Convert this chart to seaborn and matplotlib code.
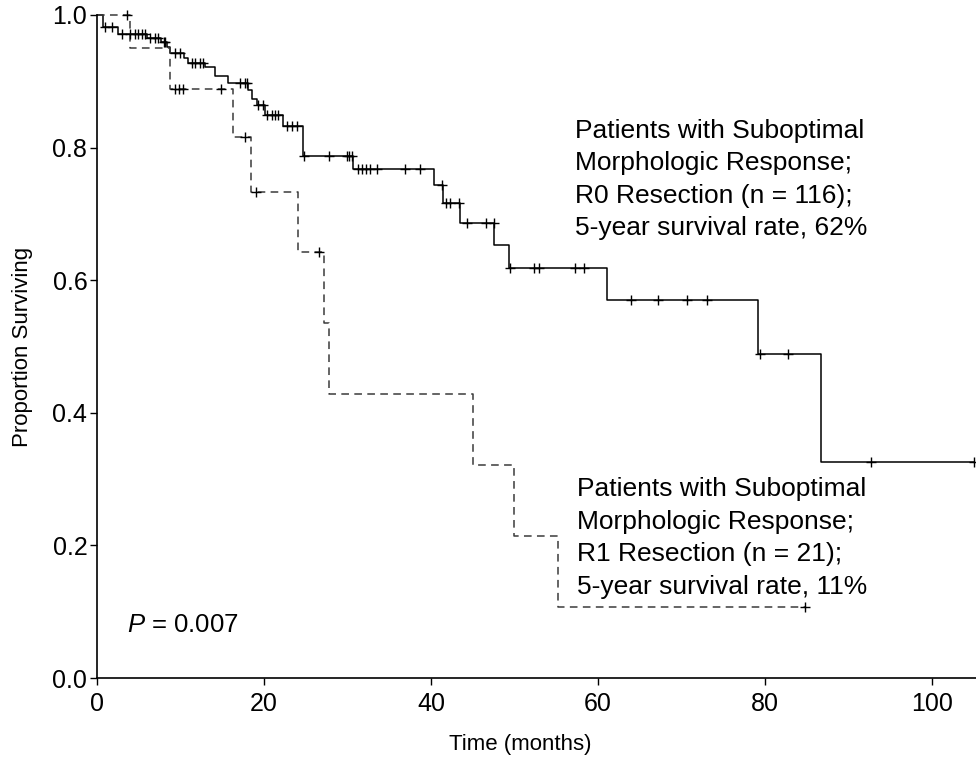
import numpy as np
import pandas as pd
import matplotlib
matplotlib.use("Agg")
import matplotlib.pyplot as plt
import seaborn as sns

# ---- data ----
# R0 resection (solid)
r0_event_t = [0.68, 2.55, 5.95, 7.66, 8.42, 8.74, 10.46, 10.93, 12.93, 14.13, 15.73,
              18.12, 18.52, 19.12, 20.12, 22.31, 24.71, 30.69, 40.36, 41.47, 43.47,
              47.58, 49.38, 61.1, 79.2, 86.7]
r0_surv = [0.982, 0.972, 0.965, 0.960, 0.952, 0.943, 0.935, 0.927, 0.921, 0.908, 0.898,
           0.887, 0.874, 0.864, 0.849, 0.833, 0.787, 0.768, 0.744, 0.716, 0.687,
           0.653, 0.618, 0.570, 0.489, 0.326]
r0_censor = [0.96, 1.76, 2.96, 3.95, 4.55, 4.95, 5.35, 5.75, 6.35, 6.95, 7.34, 8.0, 8.2,
             9.34, 9.94, 11.34, 11.74, 12.34, 12.73, 17.13, 17.72, 18.0, 19.32, 19.92,
             20.32, 20.92, 21.32, 21.71, 22.71, 23.31, 23.91, 24.8, 27.8, 29.9, 30.2,
             30.5, 31.2, 31.7, 32.2, 32.7, 33.5, 36.9, 38.7, 41.3, 41.8, 42.3, 43.3,
             44.3, 46.6, 47.5, 49.5, 52.3, 52.9, 57.2, 58.3, 63.9, 67.2, 70.7, 73.1,
             79.4, 82.7, 92.7, 105.0]
r0_end = 105.0

# R1 resection (dashed)
r1_event_t = [3.95, 8.7, 16.3, 18.4, 24.1, 27.2, 27.8, 45.0, 49.9, 55.2]
r1_surv = [0.950, 0.889, 0.816, 0.733, 0.643, 0.536, 0.428, 0.321, 0.214, 0.107]
r1_censor = [3.55, 9.3, 9.8, 10.3, 14.8, 17.7, 19.0, 26.6, 84.8]
r1_end = 84.8

x_ticks = [0, 20, 40, 60, 80, 100]
y_ticks = [0.0, 0.2, 0.4, 0.6, 0.8, 1.0]
y_tick_labels = ["0.0", "0.2", "0.4", "0.6", "0.8", "1.0"]

label_r0 = ("Patients with Suboptimal\nMorphologic Response;\n"
            "R0 Resection (n = 116);\n5-year survival rate, 62%")
label_r1 = ("Patients with Suboptimal\nMorphologic Response;\n"
            "R1 Resection (n = 21);\n5-year survival rate, 11%")
p_text = r"$P$ = 0.007"


def km_frame(times, surv, end):
    t = [0.0] + list(times) + [end]
    s = [1.0] + list(surv) + [surv[-1]]
    return pd.DataFrame({"t": t, "s": s})


def censor_frame(ctimes, times, surv):
    levels = np.concatenate([[1.0], surv])
    idx = np.searchsorted(np.asarray(times), np.asarray(ctimes), side="right")
    return pd.DataFrame({"t": ctimes, "s": levels[idx]})


sns.set_theme(style="ticks")
plt.rcParams["font.family"] = ["Liberation Sans", "DejaVu Sans"]
plt.rcParams["mathtext.fontset"] = "custom"
plt.rcParams["mathtext.it"] = "Liberation Sans:italic"
plt.rcParams["mathtext.rm"] = "Liberation Sans"

W, H = 976, 765
fig = plt.figure(figsize=(W / 100, H / 100), dpi=100)
ax = fig.add_axes([97 / W, 1 - 678 / H, (W - 97) / W, (678 - 15) / H])

r0 = km_frame(r0_event_t, r0_surv, r0_end)
r1 = km_frame(r1_event_t, r1_surv, r1_end)

sns.lineplot(data=r0, x="t", y="s", ax=ax, color="black", linewidth=1.1,
             drawstyle="steps-post", estimator=None, sort=False, clip_on=False)
sns.lineplot(data=r1, x="t", y="s", ax=ax, color="#3a3a3a", linewidth=1.1,
             drawstyle="steps-post", estimator=None, sort=False,
             linestyle=(0, (5, 3.5)), clip_on=False)

c0 = censor_frame(r0_censor, r0_event_t, r0_surv)
c1 = censor_frame(r1_censor, r1_event_t, r1_surv)
sns.scatterplot(data=c0, x="t", y="s", ax=ax, marker="+", s=45, color="black",
                linewidth=1.0, clip_on=False, zorder=3)
sns.scatterplot(data=c1, x="t", y="s", ax=ax, marker="+", s=45, color="black",
                linewidth=1.0, clip_on=False, zorder=3)

ax.set_xlim(0, (W - 97) / 8.35)
ax.set_ylim(0, 1.0)
ax.set_xticks(x_ticks)
ax.set_yticks(y_ticks)
ax.set_yticklabels(y_tick_labels)
ax.tick_params(axis="both", direction="out", length=5, width=1.0,
               labelsize=18, colors="black")
ax.tick_params(axis="x", pad=5)
ax.tick_params(axis="y", pad=2)
for sp in ["top", "right"]:
    ax.spines[sp].set_visible(False)
for sp in ["left", "bottom"]:
    ax.spines[sp].set_color("black")
    ax.spines[sp].set_linewidth(1.2)

ax.set_xlabel("Time (months)", fontsize=16, color="black")
ax.set_ylabel("Proportion Surviving", fontsize=16, color="black")
ax.xaxis.set_label_coords((520 - 97) / (W - 97), -0.085)
ax.yaxis.set_label_coords(-0.073, 0.5)

ax.text(57.3, 0.752, label_r0, fontsize=19, va="center", ha="left",
        color="black", linespacing=1.45)
ax.text(57.5, 0.211, label_r1, fontsize=19, va="center", ha="left",
        color="black", linespacing=1.45)
ax.text(3.6, 0.080, p_text, fontsize=18.5, va="center", ha="left", color="black")

fig.savefig("out.png", dpi=100, facecolor="white")
